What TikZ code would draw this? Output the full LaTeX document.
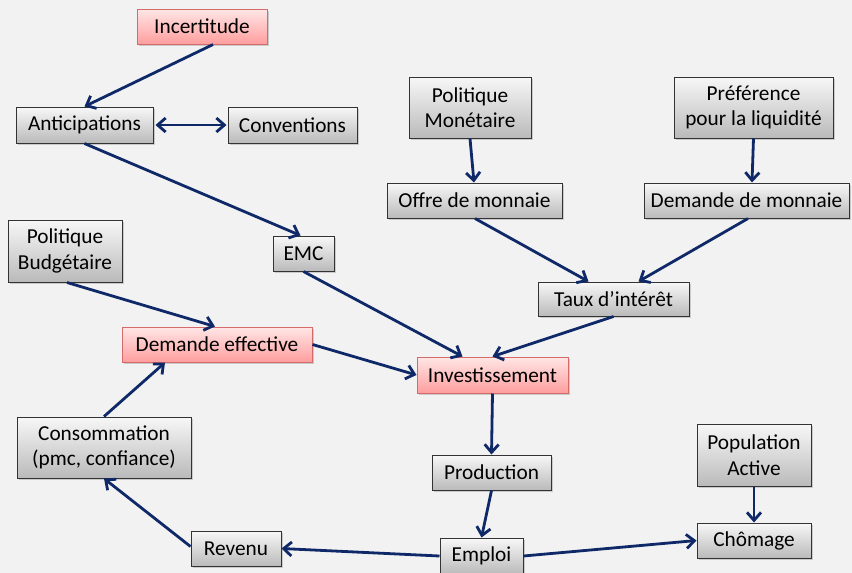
\documentclass[tikz,border=0pt]{standalone}
\usepackage{fontspec}
\setmainfont{Carlito}
\usetikzlibrary{arrows.meta,shadows}
\definecolor{bgc}{HTML}{F2F2F2}
\definecolor{navy}{RGB}{14,40,104}
\definecolor{pinktop}{HTML}{FFE6E6}
\definecolor{pinkbot}{HTML}{FF9E9E}
\definecolor{pinkedge}{HTML}{D46A6A}
\tikzset{
  gbox/.style={draw=black!80, line width=1pt, top color=white!97!black, bottom color=black!27,
    inner sep=0pt, align=center, font=\fontsize{21.3}{25.5}\selectfont,
    drop shadow={shadow xshift=1.5pt, shadow yshift=-1.5pt, opacity=0.35}},
  pbox/.style={gbox, draw=pinkedge, top color=pinktop, bottom color=pinkbot},
  conn/.style={draw=navy, line width=2.8pt, -{Straight Barb[length=8pt,width=14pt,line width=2.8pt]}},
  conn2/.style={draw=navy, line width=2.8pt, {Straight Barb[length=8pt,width=14pt,line width=2.8pt]}-{Straight Barb[length=8pt,width=14pt,line width=2.8pt]}}
}
\begin{document}
\begin{tikzpicture}[x=1pt,y=-1pt]
\fill[bgc] (0,0) rectangle (852,573);
\useasboundingbox (0,0) rectangle (852,573);

\node[pbox, minimum width=130pt, minimum height=35pt] (inc) at (202,26.5) {Incertitude};
\node[gbox, minimum width=137pt, minimum height=36pt] (ant) at (84.5,125) {Anticipations};
\node[gbox, minimum width=129pt, minimum height=36pt] (conv) at (292.5,125) {Conventions};
\node[gbox, minimum width=122pt, minimum height=61pt] (polm) at (470,107.5) {Politique\\Monétaire};
\node[gbox, minimum width=159pt, minimum height=61pt] (pref) at (753.5,107.5) {Préférence\\pour la liquidité};
\node[gbox, minimum width=175pt, minimum height=35pt] (offre) at (474.5,200.5) {Offre de monnaie};
\node[gbox, minimum width=205pt, minimum height=35pt] (demm) at (746.5,200.5) {Demande de monnaie};
\node[gbox, minimum width=114pt, minimum height=62pt] (polb) at (65,251) {Politique\\Budgétaire};
\node[gbox, minimum width=61pt, minimum height=35pt] (emc) at (303.5,253.5) {EMC};
\node[gbox, minimum width=151pt, minimum height=34pt] (taux) at (613.5,299) {Taux d’intérêt};
\node[pbox, minimum width=190pt, minimum height=35pt] (demeff) at (217,344.5) {Demande effective};
\node[pbox, minimum width=151pt, minimum height=36pt] (inv) at (492.5,375) {Investissement};
\node[gbox, minimum width=174pt, minimum height=61pt] (cons) at (104,447.5) {Consommation\\(pmc, confiance)};
\node[gbox, minimum width=114pt, minimum height=62pt] (pop) at (754,455) {Population\\Active};
\node[gbox, minimum width=119pt, minimum height=35pt] (prod) at (491.5,472.5) {Production};
\node[gbox, minimum width=114pt, minimum height=35pt] (chom) at (754,540.5) {Chômage};
\node[gbox, minimum width=90pt, minimum height=35pt] (rev) at (236,548.5) {Revenu};
\node[gbox, minimum width=83pt, minimum height=36pt] (emploi) at (481.5,556) {Emploi};

\draw[conn] ([xshift=11pt]inc.south) -- (ant.north);
\draw[conn2, shorten <=2pt, shorten >=1pt] (ant.east) -- (conv.west);
\draw[conn] ([xshift=0pt]ant.south) -- ([xshift=-3pt]emc.north);
\draw[conn] (polm.south) -- ([xshift=-0.5pt]offre.north);
\draw[conn] (pref.south) -- ([xshift=5.5pt]demm.north);
\draw[conn] ([xshift=0.5pt]offre.south) -- ([xshift=-25pt]taux.north);
\draw[conn] ([xshift=1.5pt]demm.south) -- ([xshift=25pt]taux.north);
\draw[conn] (taux.south) -- (inv.north);
\draw[conn] (emc.south) -- ([xshift=-30pt]inv.north);
\draw[conn] ([xshift=2pt]polb.south) -- ([xshift=-2pt]demeff.north);
\draw[conn] (demeff.east) -- (inv.west);
\draw[conn] (inv.south) -- (prod.north);
\draw[conn] (prod.south) -- (emploi.north);
\draw[conn] (emploi.west) -- (rev.east);
\draw[conn] (emploi.east) -- (chom.west);
\draw[conn] (pop.south) -- (chom.north);
\draw[conn] ([yshift=2pt]rev.west) -- (cons.south);
\draw[conn] (cons.north) -- ([xshift=-52pt]demeff.south);
\end{tikzpicture}
\end{document}
